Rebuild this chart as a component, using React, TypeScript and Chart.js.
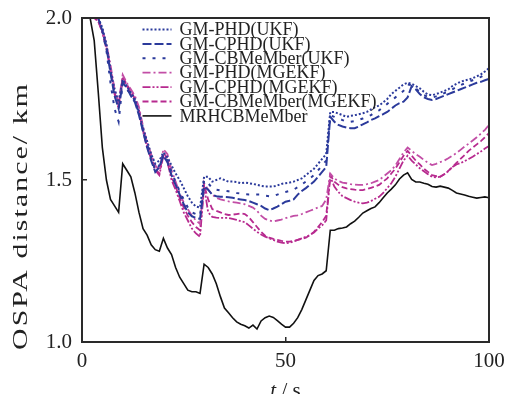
import React, { useEffect, useRef } from 'react';
import { Chart, registerables } from 'chart.js';

Chart.register(...registerables);

// time axis (s)
const T = [
  0, 1, 2, 3, 4, 5, 6, 7, 8, 9,
  10, 11, 12, 13, 14, 15, 16, 17, 18, 19,
  20, 21, 22, 23, 24, 25, 26, 27, 28, 29,
  30, 31, 32, 33, 34, 35, 36, 37, 38, 39,
  40, 41, 42, 43, 44, 45, 46, 47, 48, 49,
  50, 51, 52, 53, 54, 55, 56, 57, 58, 59,
  60, 61, 62, 63, 64, 65, 66, 67, 68, 69,
  70, 71, 72, 73, 74, 75, 76, 77, 78, 79,
  80, 81, 82, 83, 84, 85, 86, 87, 88, 89,
  90, 91, 92, 93, 94, 95, 96, 97, 98, 99,
  100,
];

const PHD_UKF = [
  2.0, 2.0, 2.0, 2.0, 2.0, 1.97, 1.92, 1.84, 1.78, 1.74,
  1.81, 1.79, 1.77, 1.75, 1.71, 1.66, 1.62, 1.58, 1.55, 1.56,
  1.585, 1.57, 1.545, 1.52, 1.5, 1.475, 1.45, 1.43, 1.418, 1.415,
  1.51, 1.51, 1.495, 1.5, 1.505, 1.5, 1.495, 1.495, 1.494, 1.49,
  1.492, 1.49, 1.488, 1.485, 1.482, 1.48, 1.48, 1.48, 1.483, 1.488,
  1.49, 1.492, 1.495, 1.5, 1.505, 1.515, 1.525, 1.535, 1.55, 1.565,
  1.58, 1.71, 1.71, 1.705, 1.7, 1.695, 1.698, 1.7, 1.703, 1.706,
  1.71, 1.718, 1.725, 1.73, 1.74, 1.75, 1.765, 1.775, 1.785, 1.795,
  1.8, 1.797, 1.79, 1.783, 1.772, 1.764, 1.762, 1.765, 1.77, 1.775,
  1.78, 1.79, 1.797, 1.803, 1.807, 1.81, 1.814, 1.82, 1.826, 1.835,
  1.845,
];

const CPHD_UKF = [
  2.0, 2.0, 2.0, 2.0, 2.0, 1.96, 1.91, 1.83, 1.76, 1.72,
  1.8, 1.785, 1.76, 1.74, 1.7, 1.65, 1.6, 1.56, 1.525, 1.54,
  1.575, 1.555, 1.515, 1.485, 1.455, 1.425, 1.4, 1.388, 1.383, 1.38,
  1.48, 1.47, 1.455, 1.45, 1.448, 1.448, 1.447, 1.445, 1.442, 1.44,
  1.438, 1.435, 1.43, 1.425, 1.42, 1.412, 1.407, 1.412, 1.418, 1.425,
  1.433, 1.436, 1.44, 1.455, 1.466, 1.475, 1.485, 1.495, 1.51, 1.525,
  1.54, 1.695, 1.68, 1.67, 1.665, 1.662, 1.66, 1.66, 1.665, 1.672,
  1.678, 1.685, 1.69, 1.697, 1.703, 1.71, 1.72, 1.73, 1.737, 1.742,
  1.755, 1.79, 1.78, 1.765, 1.755, 1.75, 1.747, 1.75, 1.755, 1.76,
  1.765, 1.77, 1.775, 1.78, 1.785, 1.79, 1.795, 1.8, 1.803, 1.808,
  1.812,
];

const CBM_UKF = [
  2.0, 2.0, 2.0, 2.0, 2.0, 1.96, 1.9, 1.8, 1.72, 1.68,
  1.8, 1.78, 1.765, 1.745, 1.705, 1.655, 1.61, 1.57, 1.53, 1.545,
  1.58, 1.56, 1.525, 1.495, 1.465, 1.44, 1.415, 1.4, 1.395, 1.39,
  1.5, 1.49, 1.475, 1.47, 1.468, 1.467, 1.465, 1.463, 1.46, 1.458,
  1.456, 1.455, 1.455, 1.455, 1.455, 1.452, 1.45, 1.45, 1.455, 1.46,
  1.463, 1.466, 1.47, 1.478, 1.486, 1.495, 1.505, 1.515, 1.53, 1.545,
  1.56, 1.7, 1.695, 1.69, 1.685, 1.68, 1.68, 1.682, 1.686, 1.69,
  1.695, 1.7, 1.71, 1.715, 1.725, 1.735, 1.745, 1.755, 1.765, 1.775,
  1.795, 1.793, 1.783, 1.772, 1.762, 1.757, 1.755, 1.758, 1.762, 1.768,
  1.773, 1.78, 1.787, 1.793, 1.798, 1.803, 1.808, 1.813, 1.818, 1.825,
  1.832,
];

const PHD_MGEKF = [
  2.0, 2.0, 2.0, 2.0, 1.995, 1.965, 1.92, 1.855, 1.78, 1.74,
  1.825, 1.8, 1.78, 1.76, 1.725, 1.665, 1.615, 1.58, 1.545, 1.53,
  1.595, 1.58, 1.53, 1.495, 1.46, 1.43, 1.41, 1.39, 1.375, 1.365,
  1.49, 1.47, 1.455, 1.445, 1.44, 1.437, 1.434, 1.432, 1.43, 1.428,
  1.425, 1.42, 1.415, 1.405, 1.39, 1.38, 1.375, 1.372, 1.375, 1.378,
  1.382, 1.386, 1.389, 1.391, 1.395, 1.4, 1.405, 1.41, 1.415, 1.42,
  1.44, 1.52, 1.505, 1.497, 1.492, 1.49, 1.487, 1.486, 1.485, 1.485,
  1.487, 1.49, 1.495, 1.5, 1.51, 1.52, 1.53, 1.545, 1.565, 1.585,
  1.6, 1.59, 1.58, 1.572, 1.562, 1.553, 1.546, 1.55, 1.555, 1.56,
  1.567, 1.575, 1.583, 1.593, 1.603, 1.612, 1.622, 1.632, 1.643, 1.655,
  1.67,
];

const CPHD_MGEKF = [
  2.0, 2.0, 2.0, 2.0, 1.99, 1.955, 1.905, 1.84, 1.765, 1.72,
  1.81, 1.79, 1.77, 1.745, 1.71, 1.65, 1.6, 1.565, 1.53, 1.515,
  1.575, 1.555, 1.5, 1.47, 1.435, 1.4, 1.375, 1.35, 1.335, 1.325,
  1.48, 1.4, 1.386, 1.384, 1.383, 1.383, 1.383, 1.38, 1.377, 1.373,
  1.37, 1.36, 1.35, 1.34, 1.332, 1.325, 1.32, 1.315, 1.31, 1.307,
  1.305, 1.306, 1.31, 1.315, 1.32, 1.325, 1.33, 1.338, 1.35, 1.36,
  1.375, 1.51, 1.48, 1.463, 1.45, 1.444, 1.438, 1.433, 1.43, 1.428,
  1.43, 1.435, 1.442, 1.448, 1.46, 1.475, 1.49, 1.51, 1.535, 1.56,
  1.575, 1.56, 1.548, 1.536, 1.527, 1.518, 1.51, 1.508, 1.51, 1.518,
  1.527, 1.54, 1.548, 1.552, 1.558, 1.565, 1.572, 1.58, 1.588, 1.597,
  1.605,
];

const CBM_MGEKF = [
  2.0, 2.0, 2.0, 2.0, 1.99, 1.96, 1.91, 1.845, 1.77, 1.73,
  1.82, 1.795, 1.775, 1.75, 1.715, 1.655, 1.605, 1.57, 1.535, 1.52,
  1.585, 1.565, 1.51, 1.48, 1.445, 1.415, 1.39, 1.37, 1.355, 1.345,
  1.485, 1.44, 1.41, 1.405, 1.4, 1.395, 1.392, 1.393, 1.395, 1.397,
  1.395, 1.385, 1.37, 1.355, 1.34, 1.328, 1.322, 1.318, 1.315, 1.312,
  1.31, 1.31, 1.312, 1.315, 1.318, 1.322, 1.33, 1.34, 1.355, 1.37,
  1.39, 1.515, 1.495, 1.485, 1.478, 1.474, 1.472, 1.47, 1.469, 1.469,
  1.472, 1.476, 1.48, 1.485, 1.495, 1.505, 1.52, 1.535, 1.555, 1.575,
  1.59, 1.575, 1.56, 1.548, 1.535, 1.525, 1.515, 1.512, 1.51, 1.518,
  1.528, 1.54, 1.553, 1.565, 1.577, 1.59, 1.6, 1.61, 1.62, 1.632,
  1.645,
];

const MRHCBM = [
  2.0, 2.0, 2.0, 1.93, 1.77, 1.6, 1.5, 1.44, 1.42, 1.4,
  1.55, 1.53, 1.51, 1.46, 1.4, 1.35, 1.33, 1.3, 1.285, 1.28,
  1.32, 1.29, 1.27, 1.23, 1.2, 1.18, 1.16, 1.155, 1.155, 1.15,
  1.24, 1.23, 1.21, 1.18, 1.14, 1.105, 1.09, 1.075, 1.062, 1.055,
  1.05, 1.043, 1.052, 1.04, 1.065, 1.075, 1.08, 1.076, 1.066, 1.055,
  1.046, 1.046, 1.058, 1.075, 1.1, 1.13, 1.16, 1.19, 1.205, 1.21,
  1.22, 1.345, 1.345, 1.35, 1.352, 1.355, 1.365, 1.373, 1.385, 1.398,
  1.405, 1.412, 1.417, 1.43, 1.445, 1.46, 1.472, 1.485, 1.503, 1.515,
  1.522, 1.502, 1.494, 1.494, 1.49, 1.487, 1.48, 1.478, 1.481, 1.478,
  1.475, 1.468, 1.46, 1.457, 1.454, 1.45, 1.447, 1.444, 1.446, 1.448,
  1.445,
];

const LABELS = [
  'GM-PHD(UKF)',
  'GM-CPHD(UKF)',
  'GM-CBMeMber(UKF)',
  'GM-PHD(MGEKF)',
  'GM-CPHD(MGEKF)',
  'GM-CBMeMber(MGEKF)',
  'MRHCBMeMber',
];
const VALUES = [PHD_UKF, CPHD_UKF, CBM_UKF, PHD_MGEKF, CPHD_MGEKF, CBM_MGEKF, MRHCBM];

const Y_TICKS = [1.0, 1.5, 2.0];
const X_TICKS = [0, 50, 100];

const BLUE = '#2b3a9b';
const MAGENTA = '#b72a8f';
const MAGENTA_L = '#c24ea6';
const COLORS = [BLUE, BLUE, BLUE, MAGENTA_L, MAGENTA, MAGENTA, '#111111'];
const DASHES = [[2, 2], [9, 3], [3, 7], [8, 3, 2, 3], [8, 2, 2, 2, 2, 2], [6, 3], []];
const WIDTHS = [2, 2, 2, 1.8, 1.8, 1.8, 1.6];

const SERIF = "'Liberation Serif', 'DejaVu Serif', serif";
const INK = '#222222';

const decorPlugin = {
  id: 'decor',
  afterDatasetsDraw(chart: any) {
    const { ctx, chartArea: a } = chart;
    ctx.save();
    // frame
    ctx.strokeStyle = '#2a2a2a';
    ctx.lineWidth = 2;
    ctx.setLineDash([]);
    ctx.strokeRect(a.left, a.top, a.right - a.left, a.bottom - a.top);

    // legend
    const ds = chart.data.datasets;
    const x0 = a.left + 60.5;
    ctx.font = `18px ${SERIF}`;
    ctx.textBaseline = 'middle';
    ctx.textAlign = 'left';
    for (let i = 0; i < ds.length; i++) {
      const y = a.top + 11.5 + i * 14.4;
      ctx.strokeStyle = ds[i].borderColor;
      ctx.lineWidth = ds[i].borderWidth;
      ctx.setLineDash(ds[i].borderDash || []);
      ctx.beginPath();
      ctx.moveTo(x0, y);
      ctx.lineTo(x0 + 29, y);
      ctx.stroke();
      ctx.fillStyle = INK;
      ctx.fillText(ds[i].label, x0 + 37, y + 1);
    }
    ctx.setLineDash([]);

    // x title
    ctx.fillStyle = INK;
    ctx.textBaseline = 'alphabetic';
    const cx = (a.left + a.right) / 2;
    ctx.font = `italic 21px ${SERIF}`;
    const wt = ctx.measureText('t').width;
    ctx.font = `21px ${SERIF}`;
    const rest = ' / s';
    const wr = ctx.measureText(rest).width;
    const sx = cx - (wt + wr) / 2;
    ctx.font = `italic 21px ${SERIF}`;
    ctx.fillText('t', sx, 397);
    ctx.font = `21px ${SERIF}`;
    ctx.fillText(rest, sx + wt, 397);

    // y title (elongated along its direction as in the original figure)
    const title = 'OSPA distance/ km';
    ctx.font = `21px ${SERIF}`;
    const natural = ctx.measureText(title).width;
    const target = 266;
    const stretch = 1.42;
    const spacing = Math.max(0, (target / stretch - natural) / (title.length - 1));
    ctx.translate(27, 217);
    ctx.rotate(-Math.PI / 2);
    ctx.scale(stretch, 1);
    ctx.textAlign = 'left';
    if ('letterSpacing' in ctx) {
      (ctx as any).letterSpacing = `${spacing}px`;
      ctx.fillText(title, -target / stretch / 2, 0);
      (ctx as any).letterSpacing = '0px';
    } else {
      ctx.textAlign = 'center';
      ctx.fillText(title, 0, 0);
    }
    ctx.restore();
  },
};

export default function App() {
  const ref = useRef<HTMLCanvasElement | null>(null);

  useEffect(() => {
    document.body.style.margin = '0';
    const canvas = ref.current;
    if (!canvas) return;
    const datasets = LABELS.map((label, i) => ({
      label,
      data: T.map((t, k) => ({ x: t, y: VALUES[i][k] })),
      borderColor: COLORS[i],
      backgroundColor: COLORS[i],
      borderWidth: WIDTHS[i],
      borderDash: DASHES[i],
      borderCapStyle: 'butt',
      pointRadius: 0,
      tension: 0,
      fill: false,
    }));
    const chart = new Chart(canvas, {
      type: 'line',
      data: { datasets } as any,
      options: {
        responsive: false,
        animation: false,
        events: [],
        layout: { padding: { top: 18, right: 17, left: 0, bottom: 0 } },
        plugins: { legend: { display: false }, tooltip: { enabled: false }, title: { display: false } },
        scales: {
          x: {
            type: 'linear',
            min: 0,
            max: 100,
            afterBuildTicks: (s: any) => { s.ticks = X_TICKS.map((v) => ({ value: v })); },
            afterFit: (s: any) => { s.height = 52; s.paddingLeft = 0; s.paddingRight = 0; },
            border: { display: false },
            grid: { drawOnChartArea: false, drawTicks: true, tickLength: -5, color: '#2a2a2a', lineWidth: 1.5 },
            ticks: { color: INK, font: { family: SERIF, size: 21 }, padding: 12, maxRotation: 0 },
            title: { display: false },
          },
          y: {
            type: 'linear',
            min: 1,
            max: 2,
            afterBuildTicks: (s: any) => { s.ticks = Y_TICKS.map((v) => ({ value: v })); },
            afterFit: (s: any) => { s.width = 82; s.paddingTop = 0; s.paddingBottom = 0; },
            border: { display: false },
            grid: { drawOnChartArea: false, drawTicks: true, tickLength: -5, color: '#2a2a2a', lineWidth: 1.5 },
            ticks: {
              color: INK,
              font: { family: SERIF, size: 21 },
              padding: 15,
              callback: (v: any) => Number(v).toFixed(1),
            },
            title: { display: false },
          },
        },
      },
      plugins: [decorPlugin],
    } as any);
    return () => chart.destroy();
  }, []);

  return (
    <div style={{ width: 506, height: 394, background: '#ffffff' }}>
      <canvas ref={ref} width={506} height={394} />
    </div>
  );
}
